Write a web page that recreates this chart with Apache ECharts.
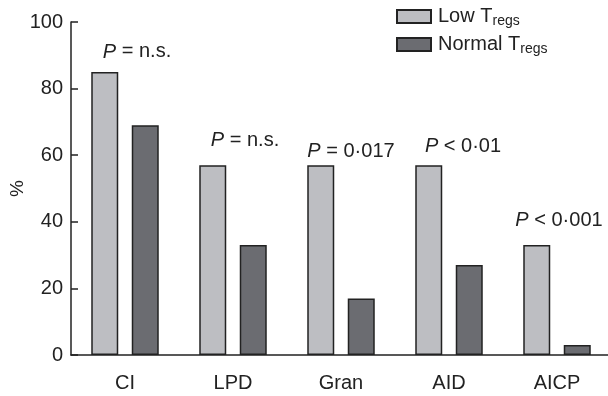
<!DOCTYPE html>
<html><head><meta charset="utf-8">
<script src="https://cdn.jsdelivr.net/npm/echarts@6/dist/echarts.min.js"></script>
<style>html,body{margin:0;padding:0;background:#fff}#c{width:608px;height:396px}</style>
</head><body><div id="c"></div>
<script>
var categories = ['CI', 'LPD', 'Gran', 'AID', 'AICP'];
var lowTregs = [85, 57, 57, 57, 33];
var normalTregs = [69, 33, 17, 27, 3];
var pTexts = ['= n.s.', '= n.s.', '= 0·017', '< 0·01', '< 0·001'];
var pAnchorY = [91, 64.5, 61, 62.5, 40.5];
var yTicks = [0, 20, 40, 60, 80, 100];

var FONT = '"Liberation Sans", Arial, sans-serif';
var chart = echarts.init(document.getElementById('c'));
var pOffsetX = [12, 12, 10, 14, 2];
chart.setOption({
  animation: false,
  textStyle: {fontFamily: FONT},
  grid: {left: 71, top: 22, width: 540, height: 333, containLabel: false, outerBoundsMode: 'none'},
  legend: {
    orient: 'vertical', left: 396, top: 4.5, itemWidth: 34, itemHeight: 13, itemGap: 4,
    icon: 'rect', padding: 0,
    data: ['Low', 'Normal'],
    formatter: function (n) { return n + ' T{s|regs}'; },
    textStyle: {fontFamily: FONT, fontSize: 20, color: '#222', padding: [0,0,0,2], lineHeight: 24,
      rich: {s: {fontFamily: FONT, fontSize: 14, color: '#222', lineHeight: 14, padding: [10, 0, 0, 0]}}}
  },
  xAxis: {
    type: 'category', data: categories,
    axisLine: {lineStyle: {color: '#222', width: 1.5}},
    axisTick: {inside: true, alignWithLabel: true, length: 6, lineStyle: {color: '#222', width: 1.5}},
    axisLabel: {fontSize: 20, color: '#222', margin: 18, fontFamily: FONT}
  },
  yAxis: {
    type: 'value', min: 0, max: 100, interval: 20,
    name: '%', nameLocation: 'middle', nameGap: 44, nameRotate: 90, nameMoveOverlap: false,
    nameTextStyle: {fontSize: 19, color: '#222', fontFamily: FONT},
    splitLine: {show: false},
    axisLine: {show: true, lineStyle: {color: '#222', width: 1.5}},
    axisTick: {show: true, inside: true, length: 7, lineStyle: {color: '#222', width: 1.5}},
    axisLabel: {fontSize: 20, color: '#222', margin: 8, fontFamily: FONT,
      formatter: function (v) { return yTicks.indexOf(v) >= 0 ? String(v) : ''; }}
  },
  series: [
    {name: 'Low', type: 'bar', data: lowTregs, barWidth: 27, barGap: '50%',
      itemStyle: {color: '#bdbec2', borderColor: '#222', borderWidth: 1.5}},
    {name: 'Normal', type: 'bar', data: normalTregs, barWidth: 27, barGap: '50%',
      itemStyle: {color: '#6b6c71', borderColor: '#222', borderWidth: 1.5}},
    {name: 'p', type: 'scatter', symbolSize: 0, silent: true,
      itemStyle: {opacity: 1},
      data: categories.map(function (c, i) { return {value: [i, pAnchorY[i]],
        label: {offset: [pOffsetX[i], 0]}}; }),
      label: {show: true, position: 'inside', opacity: 1,
        formatter: function (p) { return '{i|P} ' + pTexts[p.dataIndex]; },
        fontSize: 20, color: '#222', fontFamily: FONT,
        rich: {i: {fontStyle: 'italic', fontSize: 20, color: '#222', fontFamily: FONT}}}}
  ]
});
</script></body></html>
